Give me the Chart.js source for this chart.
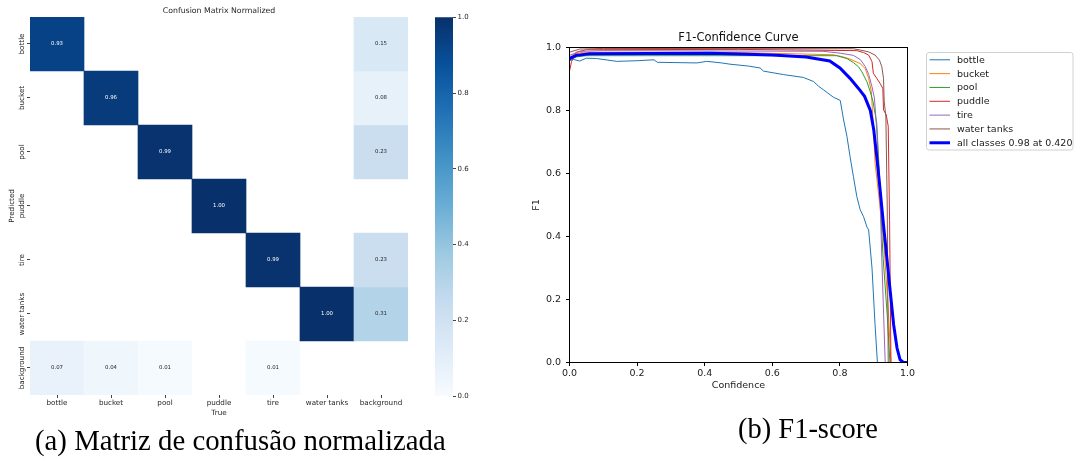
<!DOCTYPE html>
<html><head><meta charset="utf-8">
<script src="https://cdn.jsdelivr.net/npm/chart.js@4.4.0/dist/chart.umd.min.js"></script>
<style>
html,body{margin:0;padding:0;background:#fff;width:1077px;height:466px;overflow:hidden;position:relative}
canvas{position:absolute}
.cap{position:absolute;font-family:'Liberation Serif',serif;color:#000;white-space:nowrap}
</style></head><body>
<canvas id="cm" width="438" height="430" style="left:0;top:0;width:438px;height:430px"></canvas>
<canvas id="cb" width="60" height="430" style="left:420px;top:0;width:60px;height:430px"></canvas>
<canvas id="f1" width="557" height="430" style="left:520px;top:0;width:557px;height:430px"></canvas>
<div class="cap" id="capA">(a) Matriz de confusão normalizada</div>
<div class="cap" id="capB">(b) F1-score</div>
<script>
// ---------- Confusion matrix data (rows = Predicted, cols = True) ----------
const cmLabels = ['bottle','bucket','pool','puddle','tire','water tanks','background'];
const cmBottle     = [0.93, null, null, null, null, null, 0.15];
const cmBucket     = [null, 0.96, null, null, null, null, 0.08];
const cmPool       = [null, null, 0.99, null, null, null, 0.23];
const cmPuddle     = [null, null, null, 1.00, null, null, null];
const cmTire       = [null, null, null, null, 0.99, null, 0.23];
const cmWater      = [null, null, null, null, null, 1.00, 0.31];
const cmBackground = [0.07, 0.04, 0.01, null, 0.01, null, null];
const cmRows = [cmBottle, cmBucket, cmPool, cmPuddle, cmTire, cmWater, cmBackground];
const cbTicks = [0.0, 0.2, 0.4, 0.6, 0.8, 1.0];

// ---------- F1-Confidence curve data ([confidence, F1]) ----------
const f1Ticks = [0.0, 0.2, 0.4, 0.6, 0.8, 1.0];
const f1Labels = ['bottle','bucket','pool','puddle','tire','water tanks','all classes 0.98 at 0.420'];
const f1Bottle = [[0,0.958],[0.012,0.962],[0.03,0.957],[0.05,0.966],[0.08,0.965],[0.14,0.956],[0.2,0.958],[0.25,0.961],[0.26,0.953],[0.377,0.951],[0.406,0.956],[0.45,0.951],[0.475,0.947],[0.53,0.941],[0.564,0.935],[0.574,0.925],[0.633,0.914],[0.692,0.905],[0.722,0.892],[0.737,0.877],[0.751,0.866],[0.781,0.842],[0.801,0.832],[0.811,0.77],[0.821,0.717],[0.83,0.654],[0.84,0.59],[0.85,0.527],[0.86,0.485],[0.87,0.463],[0.88,0.43],[0.885,0.421],[0.895,0.3],[0.904,0.12],[0.911,0],[1,0]];
const f1Bucket = [[0,0.965],[0.01,0.978],[0.04,0.985],[0.5,0.984],[0.78,0.977],[0.81,0.97],[0.83,0.963],[0.86,0.949],[0.875,0.933],[0.885,0.902],[0.893,0.86],[0.899,0.75],[0.904,0.633],[0.913,0.548],[0.93,0.38],[0.943,0.17],[0.951,0],[1,0]];
const f1Pool = [[0,0.96],[0.02,0.97],[0.05,0.974],[0.79,0.974],[0.821,0.965],[0.84,0.952],[0.855,0.939],[0.865,0.923],[0.88,0.891],[0.89,0.859],[0.898,0.828],[0.909,0.76],[0.917,0.6],[0.921,0.475],[0.928,0.33],[0.94,0.15],[0.948,0],[1,0]];
const f1Puddle = [[0,0.925],[0.006,0.955],[0.02,0.985],[0.05,0.993],[0.5,0.994],[0.85,0.99],[0.87,0.984],[0.885,0.976],[0.895,0.955],[0.899,0.918],[0.909,0.902],[0.919,0.886],[0.927,0.87],[0.929,0.802],[0.937,0.787],[0.943,0.75],[0.947,0.45],[0.951,0],[1,0]];
const f1Tire = [[0,0.975],[0.03,0.988],[0.1,0.99],[0.75,0.988],[0.801,0.982],[0.84,0.975],[0.86,0.962],[0.875,0.94],[0.885,0.915],[0.895,0.875],[0.902,0.84],[0.909,0.739],[0.919,0.527],[0.924,0.33],[0.934,0],[1,0]];
const f1Water = [[0,0.985],[0.03,0.995],[0.1,0.997],[0.84,0.996],[0.86,0.992],[0.885,0.986],[0.904,0.976],[0.917,0.96],[0.924,0.939],[0.929,0.902],[0.931,0.83],[0.936,0.78],[0.94,0.5],[0.943,0],[1,0]];
const f1All = [[0,0.965],[0.02,0.975],[0.06,0.98],[0.42,0.982],[0.5,0.979],[0.6,0.976],[0.7,0.97],[0.77,0.957],[0.8,0.935],[0.83,0.902],[0.855,0.87],[0.873,0.845],[0.89,0.8],[0.9,0.74],[0.909,0.654],[0.919,0.548],[0.929,0.437],[0.939,0.331],[0.949,0.225],[0.959,0.12],[0.969,0.046],[0.978,0.009],[0.988,0],[1,0]];
const f1Series = [f1Bottle, f1Bucket, f1Pool, f1Puddle, f1Tire, f1Water, f1All];
const f1Colors = ['#1f77b4','#ff7f0e','#2ca02c','#d62728','#9467bd','#8c564b','#0000ff'];
const f1Widths = [1,1,1,1,1,1,3];

// ---------- helpers ----------
Chart.defaults.font.family = '"DejaVu Sans", sans-serif';
const BLUES = [[247,251,255],[222,235,247],[198,219,239],[158,202,225],[107,174,214],[66,146,198],[33,113,181],[8,81,156],[8,48,107]];
function blues(v){
  const t = Math.max(0, Math.min(1, v)) * 8;
  const i = Math.min(7, Math.floor(t)); const f = t - i;
  const a = BLUES[i], b = BLUES[i+1];
  return a.map((c,k) => c + (b[k]-c)*f);
}
const rgb = c => `rgb(${c.map(Math.round).join(',')})`;
function lum(c){
  const l = c.map(x => { x /= 255; return x <= 0.03928 ? x/12.92 : Math.pow((x+0.055)/1.055, 2.4); });
  return 0.2126*l[0] + 0.7152*l[1] + 0.0722*l[2];
}
const TXT = '#262626';

// ---------- Confusion matrix chart ----------
const cellText = { id:'cellText', afterDatasetsDraw(chart){
  const {ctx, scales:{x, y}} = chart;
  ctx.save();
  ctx.font = '5.4px "DejaVu Sans"'; ctx.textAlign = 'center'; ctx.textBaseline = 'middle';
  cmRows.forEach((row, r) => row.forEach((v, c) => {
    if (v == null) return;
    ctx.fillStyle = lum(blues(v)) < 0.408 ? '#ffffff' : TXT;
    ctx.fillText(v.toFixed(2), x.getPixelForValue(c), y.getPixelForValue(r + 0.5));
  }));
  ctx.restore();
}};
const yRotLabels = { id:'yRotLabels', afterDraw(chart){
  const {ctx, scales:{y}} = chart;
  ctx.save();
  ctx.font = '7.2px "DejaVu Sans"'; ctx.textAlign = 'center'; ctx.textBaseline = 'middle'; ctx.fillStyle = TXT;
  cmLabels.forEach((lab, i) => {
    ctx.save(); ctx.translate(22.5, y.getPixelForValue(i + 0.5)); ctx.rotate(-Math.PI/2);
    ctx.fillText(lab, 0, 0); ctx.restore();
  });
  ctx.restore();
}};
new Chart(document.getElementById('cm'), {
  type: 'bar',
  data: { labels: cmLabels, datasets: cmRows.map((row, r) => ({
    label: cmLabels[r],
    data: row.map(v => v == null ? null : [r, r + 1]),
    backgroundColor: row.map(v => v == null ? 'rgba(0,0,0,0)' : rgb(blues(v))),
    borderWidth: 0, grouped: false, barPercentage: 1, categoryPercentage: 1
  }))},
  options: {
    responsive: false, animation: false, devicePixelRatio: 1,
    layout: { padding: { left: 0, right: 30, top: 0, bottom: 0 } },
    plugins: { legend: { display: false }, tooltip: { enabled: false },
      title: { display: true, text: 'Confusion Matrix Normalized', fullSize: false, color: TXT,
        font: { size: 7.8, weight: 'normal' }, padding: { top: 6, bottom: 1.6 } } },
    scales: {
      x: { type: 'category', offset: true,
        grid: { offset: false, drawOnChartArea: false, drawTicks: true, tickLength: 3, color: '#444' },
        border: { display: false },
        ticks: { color: TXT, font: { size: 7.2 }, padding: 1.2, maxRotation: 0, minRotation: 0, autoSkip: false },
        title: { display: true, text: 'True', color: TXT, font: { size: 7.2 }, padding: { top: 0, bottom: 12.6 } },
        afterFit(s){ s.height = 35; } },
      y: { type: 'linear', min: 0, max: 7, reverse: true,
        afterBuildTicks(s){ s.ticks = cmLabels.map((_, i) => ({ value: i + 0.5 })); },
        ticks: { display: false },
        grid: { drawOnChartArea: false, drawTicks: true, tickLength: 3, color: '#444' },
        border: { display: false },
        title: { display: true, text: 'Predicted', color: TXT, font: { size: 7.2 }, padding: { top: 8.2, bottom: 0 } },
        afterFit(s){ s.width = 30; } }
    }
  },
  plugins: [cellText, yRotLabels]
});

// ---------- Colorbar ----------
new Chart(document.getElementById('cb'), {
  type: 'bar',
  data: { labels: [''], datasets: [{ data: [[0, 1]],
    backgroundColor(ctx){
      const ca = ctx.chart.chartArea; if (!ca) return '#ffffff';
      const g = ctx.chart.ctx.createLinearGradient(0, ca.bottom, 0, ca.top);
      BLUES.forEach((c, i) => g.addColorStop(i / (BLUES.length - 1), rgb(c)));
      return g;
    },
    borderWidth: 0, barPercentage: 1, categoryPercentage: 1 }] },
  options: {
    responsive: false, animation: false, devicePixelRatio: 1,
    layout: { padding: { left: 15, top: 17.3, bottom: 34, right: 0 } },
    plugins: { legend: { display: false }, tooltip: { enabled: false } },
    scales: {
      x: { display: false },
      y: { position: 'right', min: 0, max: 1,
        afterBuildTicks(s){ s.ticks = cbTicks.map(v => ({ value: v })); },
        ticks: { color: TXT, font: { size: 7 }, padding: 1.5, callback: v => Number(v).toFixed(1) },
        grid: { drawOnChartArea: false, drawTicks: true, tickLength: 3, color: '#444' },
        border: { display: false },
        afterFit(s){ s.width = 27; } }
    }
  }
});

// ---------- F1 chart ----------
const spines = { id:'spines', afterDatasetsDraw(chart){
  const {ctx, chartArea:ca} = chart;
  ctx.save(); ctx.strokeStyle = '#000'; ctx.lineWidth = 1;
  ctx.strokeRect(ca.left, ca.top, ca.right - ca.left, ca.bottom - ca.top);
  ctx.restore();
}};
const f1Legend = { id:'f1Legend', afterDraw(chart){
  const ctx = chart.ctx; ctx.save();
  ctx.beginPath(); ctx.roundRect(406.5, 52.5, 146.5, 97.5, 2.5);
  ctx.fillStyle = 'rgba(255,255,255,0.8)'; ctx.fill();
  ctx.strokeStyle = '#d0d0d0'; ctx.lineWidth = 1; ctx.stroke();
  ctx.font = '9.5px "DejaVu Sans"'; ctx.textBaseline = 'middle'; ctx.textAlign = 'left';
  chart.data.datasets.forEach((ds, i) => {
    const y = 59.8 + i * 13.83;
    ctx.beginPath(); ctx.moveTo(409.5, y); ctx.lineTo(430, y);
    ctx.strokeStyle = ds.borderColor; ctx.lineWidth = ds.borderWidth; ctx.stroke();
    ctx.fillStyle = '#1a1a1a'; ctx.fillText(ds.label, 437, y + 0.5);
  });
  ctx.restore();
}};
new Chart(document.getElementById('f1'), {
  type: 'line',
  data: { datasets: f1Series.map((s, i) => ({
    label: f1Labels[i], data: s.map(p => ({ x: p[0], y: p[1] })),
    borderColor: f1Colors[i], backgroundColor: f1Colors[i], borderWidth: f1Widths[i],
    pointRadius: 0, tension: 0, fill: false, order: f1Series.length - 1 - i
  }))},
  options: {
    responsive: false, animation: false, devicePixelRatio: 1,
    layout: { padding: { left: 0, right: 169.5, top: 0, bottom: 0 } },
    plugins: { legend: { display: false }, tooltip: { enabled: false },
      title: { display: true, text: 'F1-Confidence Curve', fullSize: false, color: '#111',
        font: { size: 11.5, weight: 'normal' }, padding: { top: 31.2, bottom: 2.5 } } },
    scales: {
      x: { type: 'linear', min: 0, max: 1,
        afterBuildTicks(s){ s.ticks = f1Ticks.map(v => ({ value: v })); },
        ticks: { color: '#1a1a1a', font: { size: 9.5 }, padding: 1.5, maxRotation: 0, callback: v => Number(v).toFixed(1) },
        grid: { drawOnChartArea: false, drawTicks: true, tickLength: 3.5, color: '#000' },
        border: { display: false },
        title: { display: true, text: 'Confidence', color: '#1a1a1a', font: { size: 9.5 }, padding: { top: 0, bottom: 39 } },
        afterFit(s){ s.height = 67.5; } },
      y: { type: 'linear', min: 0, max: 1,
        afterBuildTicks(s){ s.ticks = f1Ticks.map(v => ({ value: v })); },
        ticks: { color: '#1a1a1a', font: { size: 9.5 }, padding: 5, callback: v => Number(v).toFixed(1) },
        grid: { drawOnChartArea: false, drawTicks: true, tickLength: 3.5, color: '#000' },
        border: { display: false },
        title: { display: true, text: 'F1', color: '#1a1a1a', font: { size: 9.5 }, padding: { top: 11.3, bottom: 0 } },
        afterFit(s){ s.width = 49.5; } }
    }
  },
  plugins: [spines, f1Legend]
});

// ---------- captions ----------
(function(){
  const mc = document.createElement('canvas').getContext('2d');
  function place(id, left, targetW, baseline){
    const el = document.getElementById(id);
    mc.font = '28px "Liberation Serif"';
    const w = mc.measureText(el.textContent).width;
    const fs = 28 * targetW / w;
    el.style.fontSize = fs + 'px'; el.style.lineHeight = fs + 'px';
    el.style.left = left + 'px'; el.style.top = (baseline - 0.8375 * fs) + 'px';
  }
  place('capA', 35, 411, 450);
  place('capB', 738, 140, 439);
})();
</script>
</body></html>
